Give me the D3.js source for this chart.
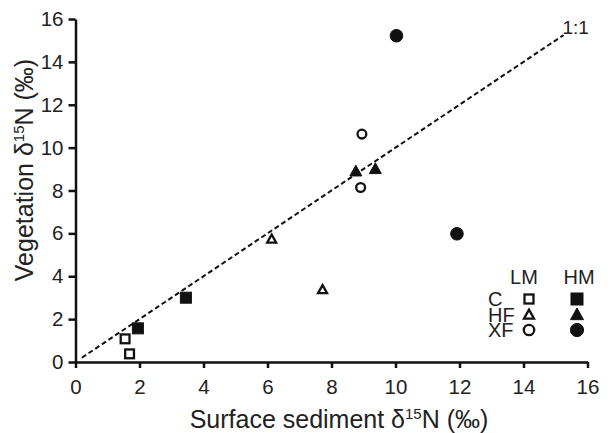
<!DOCTYPE html>
<html><head><meta charset="utf-8">
<script src="https://cdn.jsdelivr.net/npm/d3@7"></script>
<style>body{margin:0;background:#fff}text{font-family:"Liberation Sans",Arial,sans-serif;fill:#222}</style>
</head><body><svg id="c" width="610" height="433"></svg>
<script>
const xTicks = [0,2,4,6,8,10,12,14,16];
const yTicks = [0,2,4,6,8,10,12,14,16];
const cLM = [[1.55,1.08],[1.69,0.38]];
const cHM = [[1.95,1.57],[3.45,3.0]];
const hfLM = [[6.13,5.72],[7.72,3.36]];
const hfHM = [[8.76,8.88],[9.37,8.99]];
const xfLM = [[8.95,10.63],[8.91,8.14]];
const xfHM = [[10.03,15.22],[11.92,5.98]];
const oneToOne = [[0.2,0.2],[15.25,15.25]];
const legendRows = ["C","HF","XF"];
const legendCols = ["LM","HM"];

const svg = d3.select("#c");
const x = d3.scaleLinear().domain([0,16]).range([75.5,587.5]);
const y = d3.scaleLinear().domain([0,16]).range([362,19]);

// dashed 1:1 line
svg.append("path").datum(oneToOne)
  .attr("d", d3.line().x(d=>x(d[0])).y(d=>y(d[1])))
  .attr("fill","none").attr("stroke","#111").attr("stroke-width",2).attr("stroke-dasharray","5,3");
svg.append("text").attr("x", x(15.25)-1).attr("y", 34).attr("font-size",19).text("1:1");

// axes
const xa = svg.append("g").attr("transform",`translate(0,${y(0)})`)
  .call(d3.axisBottom(x).tickValues(xTicks).tickSize(6).tickSizeOuter(0).tickPadding(11));
const ya = svg.append("g").attr("transform",`translate(${x(0)},0)`)
  .call(d3.axisLeft(y).tickValues(yTicks).tickSize(7).tickSizeOuter(0).tickPadding(5));
[xa,ya].forEach(a=>{
  a.selectAll("path,line").attr("stroke","#111").attr("stroke-width",2.5);
  a.selectAll("text").attr("font-size",20.5).attr("fill","#222").style("font-family",'"Liberation Sans",Arial,sans-serif');
});

const SW = 2.3;
// markers
function square(g, data, filled, s){
  g.selectAll(null).data(data).enter().append("rect")
    .attr("x",d=>x(d[0])-s/2).attr("y",d=>y(d[1])-s/2).attr("width",s).attr("height",s)
    .attr("fill",filled?"#111":"#fff").attr("stroke","#111").attr("stroke-width",filled?1:SW);
}
function triPath(cx,cy,s){const h=s*0.9;return `M${cx},${cy-h*0.6}L${cx+s/2},${cy+h*0.4}L${cx-s/2},${cy+h*0.4}Z`;}
function tri(g, data, filled, s){
  g.selectAll(null).data(data).enter().append("path")
    .attr("d",d=>triPath(x(d[0]),y(d[1]),s))
    .attr("fill",filled?"#111":"#fff").attr("stroke","#111").attr("stroke-width",filled?1:SW);
}
function circ(g, data, filled, r){
  g.selectAll(null).data(data).enter().append("circle")
    .attr("cx",d=>x(d[0])).attr("cy",d=>y(d[1])).attr("r",r)
    .attr("fill",filled?"#111":"#fff").attr("stroke","#111").attr("stroke-width",filled?1:SW);
}
const m = svg.append("g");
square(m,cLM,false,8.8); square(m,cHM,true,11);
tri(m,hfLM,false,9); tri(m,hfHM,true,12);
circ(m,xfLM,false,4.4); circ(m,xfHM,true,6.3);

// legend
const lg = svg.append("g");
const colX = [529, 577], colTX = [524, 579], rowY = [299, 315, 330];
legendCols.forEach((t,i)=>lg.append("text").attr("x",colTX[i]).attr("y",284).attr("text-anchor","middle").attr("font-size",20).text(t));
legendRows.forEach((t,i)=>lg.append("text").attr("x",488).attr("y",rowY[i]+7).attr("font-size",20).text(t));
function lsq(cx,cy,filled,s){lg.append("rect").attr("x",cx-s/2).attr("y",cy-s/2).attr("width",s).attr("height",s).attr("fill",filled?"#111":"#fff").attr("stroke","#111").attr("stroke-width",filled?1:SW);}
function ltri(cx,cy,filled,s){lg.append("path").attr("d",triPath(cx,cy,s)).attr("fill",filled?"#111":"#fff").attr("stroke","#111").attr("stroke-width",filled?1:SW);}
function lci(cx,cy,filled,r){lg.append("circle").attr("cx",cx).attr("cy",cy).attr("r",r).attr("fill",filled?"#111":"#fff").attr("stroke","#111").attr("stroke-width",filled?1:SW);}
lsq(colX[0],rowY[0],false,9); lsq(colX[1],rowY[0],true,12);
ltri(colX[0],rowY[1],false,10); ltri(colX[1],rowY[1],true,13);
lci(colX[0],rowY[2],false,5.2); lci(colX[1],rowY[2],true,6.6);

// axis titles
const xt = svg.append("text").attr("x",339).attr("y",428).attr("text-anchor","middle").attr("font-size",25);
xt.append("tspan").text("Surface sediment δ");
xt.append("tspan").attr("font-size",15).attr("dy",-9).text("15");
xt.append("tspan").attr("dy",9).text("N (‰)");
const yt = svg.append("text").attr("transform","translate(33,170) rotate(-90)").attr("text-anchor","middle").attr("font-size",25);
yt.append("tspan").text("Vegetation δ");
yt.append("tspan").attr("font-size",15).attr("dy",-9).text("15");
yt.append("tspan").attr("dy",9).text("N (‰)");
</script></body></html>
